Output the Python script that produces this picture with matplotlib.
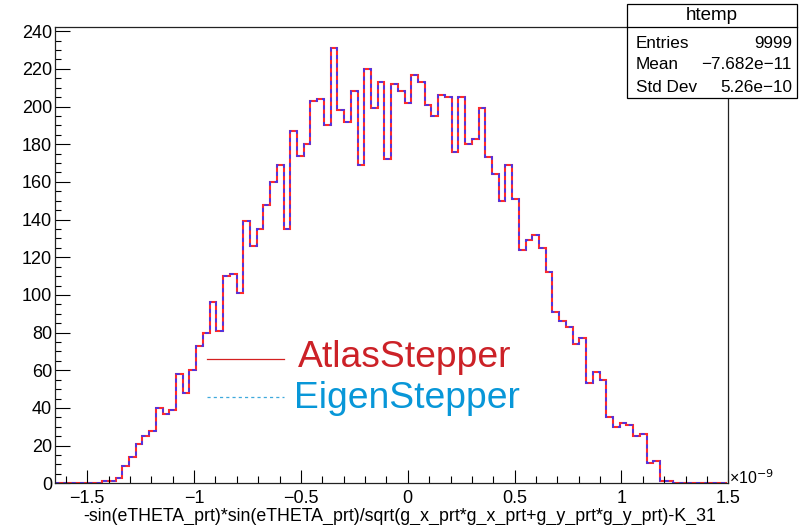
import numpy as np
import matplotlib
matplotlib.use("Agg")
import matplotlib.pyplot as plt
from matplotlib.lines import Line2D
from matplotlib.patches import Rectangle

plt.rcParams['font.family'] = ['Liberation Sans', 'DejaVu Sans']

# ---------------- data ----------------
n_bins = 100
x_min = -1.651   # in units of 1e-9
x_max = 1.495
atlas_counts = ([0] * 7 +
    [1, 1, 3, 9, 14, 21, 25, 28, 40, 37, 39, 58, 48, 60, 73, 80, 96, 81, 110, 111,
     101, 139, 126, 135, 148, 160, 169, 135, 187, 174, 180, 203, 204, 190, 231, 198,
     192, 208, 169, 220, 199, 213, 172, 212, 208,
     202, 217, 213, 201, 195, 206, 205, 176, 205, 180, 183, 199, 173, 164, 150, 169,
     151, 124, 129, 132, 125, 112, 91, 86, 83, 74,
     77, 53, 59, 55, 35, 30, 32, 31, 25, 26, 11, 12, 1, 1] +
    [0] * 8)
eigen_counts = list(atlas_counts)
series_labels = ["AtlasStepper", "EigenStepper"]
x_title = "-sin(eTHETA_prt)*sin(eTHETA_prt)/sqrt(g_x_prt*g_x_prt+g_y_prt*g_y_prt)-K_31"
stats_title = "htemp"
stats_rows = [("Entries", "9999"), ("Mean", "\u22127.682e\u221211"), ("Std Dev", "5.26e\u221210")]
x_ticks = [-1.5, -1, -0.5, 0, 0.5, 1, 1.5]
x_tick_labels = ["\u22121.5", "\u22121", "\u22120.5", "0", "0.5", "1", "1.5"]
y_ticks = list(range(0, 241, 20))

# ---------------- figure ----------------
W, H = 804, 525
fig = plt.figure(figsize=(W / 100, H / 100), dpi=100)

def fx(x):
    return x / W

def fy(y):
    return 1 - y / H

left, right, top, bottom = 55, 728.3, 26.5, 483.3
ax = fig.add_axes([fx(left), fy(bottom), fx(right) - fx(left), fy(top) - fy(bottom)])

edges = np.linspace(x_min, x_max, n_bins + 1)
ax.stairs(atlas_counts, edges, color='#ff2a2a', lw=1.5, baseline=0)
ax.stairs(eigen_counts, edges, color='#3535ff', lw=1.2, baseline=0,
          linestyle=(0, (2.5, 2.5)))

ax.set_xlim(x_min, x_max)
ax.set_ylim(0, 242.5)
ax.set_xticks(x_ticks)
ax.set_xticklabels(x_tick_labels)
ax.set_yticks(y_ticks)
ax.set_xticks(np.arange(-1.6, 1.5001, 0.1), minor=True)
ax.set_yticks(np.arange(0, 241, 5), minor=True)
ax.tick_params(axis='both', which='both', direction='in', labelsize=13, colors='black')
ax.tick_params(axis='x', which='major', length=9.5, width=0.8, pad=5)
ax.tick_params(axis='x', which='minor', length=4.8, width=0.8)
ax.tick_params(axis='y', which='major', length=10.5, width=0.8, pad=2)
ax.tick_params(axis='y', which='minor', length=4.5, width=0.8)
for s in ax.spines.values():
    s.set_linewidth(0.9)
    s.set_color('#222222')

# x axis multiplier and title
fig.text(fx(729), fy(484), "\u00d710$^{-9}$", fontsize=11.5, ha='left', va='baseline')
fig.text(fx(716), fy(521), x_title, fontsize=12.75, ha='right', va='baseline')

# legend
fig.add_artist(Line2D([fx(206.7), fx(284.3)], [fy(358.5), fy(358.5)],
                      color='#d42020', lw=0.9))
fig.add_artist(Line2D([fx(206.7), fx(284.3)], [fy(397), fy(397)],
                      color='#3fa9dc', lw=0.9, linestyle=(0, (2.5, 2.5))))
fig.text(fx(298), fy(367), series_labels[0], fontsize=26.8, color='#cc2127',
         ha='left', va='baseline')
fig.text(fx(294), fy(408.5), series_labels[1], fontsize=26.8, color='#0897d8',
         ha='left', va='baseline')

# stats box
bx0, bx1, by0, by1, bdiv = 627.5, 796.7, 3.5, 97.7, 27
fig.add_artist(Rectangle((fx(bx0), fy(by1)), fx(bx1) - fx(bx0), fy(by0) - fy(by1),
                         facecolor='white', edgecolor='black', lw=0.9,
                         transform=fig.transFigure))
fig.add_artist(Line2D([fx(bx0), fx(bx1)], [fy(bdiv), fy(bdiv)], color='black', lw=0.9))
fig.text(fx((bx0 + bx1) / 2), fy(15.5), stats_title, fontsize=13.5, ha='center', va='center')
row_y = [43, 64.5, 87]
for (k, v), yy in zip(stats_rows, row_y):
    fig.text(fx(636), fy(yy), k, fontsize=12.3, ha='left', va='center')
    fig.text(fx(792), fy(yy), v, fontsize=12.3, ha='right', va='center')

fig.savefig("out.png", dpi=100)
